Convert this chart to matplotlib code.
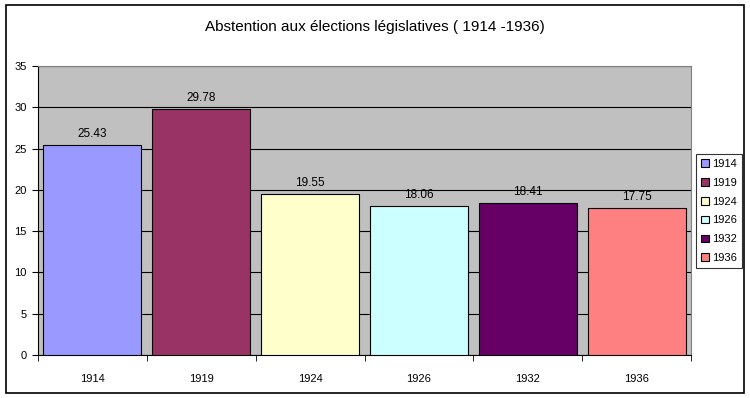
import matplotlib
matplotlib.use("Agg")
import matplotlib.pyplot as plt
from matplotlib.patches import Rectangle
import numpy as np

plt.rcParams['font.family'] = ['Liberation Sans', 'DejaVu Sans']

annees = ['1914', '1919', '1924', '1926', '1932', '1936']
abstention = [25.43, 29.78, 19.55, 18.06, 18.41, 17.75]
couleurs = ['#9999FF', '#993366', '#FFFFCC', '#CCFFFF', '#660066', '#FF8080']

fig = plt.figure(figsize=(7.5, 3.98), dpi=100)
fig.patches.append(Rectangle((6 / 750, 5 / 398), 738 / 750, 388 / 398, transform=fig.transFigure,
                             fill=False, edgecolor='black', linewidth=1.2))

ax = fig.add_axes([38 / 750, 1 - 355 / 398, 653 / 750, 289 / 398])
ax.set_facecolor('#C0C0C0')

x = np.arange(len(annees))
barres = ax.bar(x, abstention, width=0.9, color=couleurs, edgecolor='black', linewidth=0.8,
                label=annees, zorder=3)
for xi, v in zip(x, abstention):
    ax.text(xi, v + 0.6, f'{v:.2f}', ha='center', va='bottom', fontsize=8.5)

ax.set_xlim(-0.5, len(annees) - 0.5)
ax.set_ylim(0, 35)
ax.set_yticks(range(0, 36, 5))
ax.yaxis.grid(True, color='black', linewidth=0.8, zorder=0)
ax.set_xticks(x)
ax.set_xticklabels(annees)
ax.set_xticks(np.arange(-0.5, len(annees), 1), minor=True)
ax.tick_params(axis='x', which='major', length=0, pad=14, labelsize=8)
ax.tick_params(axis='x', which='minor', length=4, direction='out')
ax.tick_params(axis='y', length=4, direction='out', labelsize=8, pad=4)
for s in ['top', 'right']:
    ax.spines[s].set_color('#808080')
ax.spines['left'].set_color('black')
ax.spines['bottom'].set_color('black')

fig.text(0.5, 1 - 27 / 398, 'Abstention aux élections législatives ( 1914 -1936)',
         ha='center', va='center', fontsize=11)

leg = fig.legend(barres, annees, loc='center', bbox_to_anchor=(719 / 750, 1 - 211 / 398),
                 fontsize=8, frameon=True, fancybox=False, handlelength=0.7, handleheight=0.7,
                 handletextpad=0.3, borderpad=0.45, labelspacing=0.8, borderaxespad=0)
leg.get_frame().set_edgecolor('black')
leg.get_frame().set_linewidth(0.8)

fig.savefig('out.png', dpi=100)
